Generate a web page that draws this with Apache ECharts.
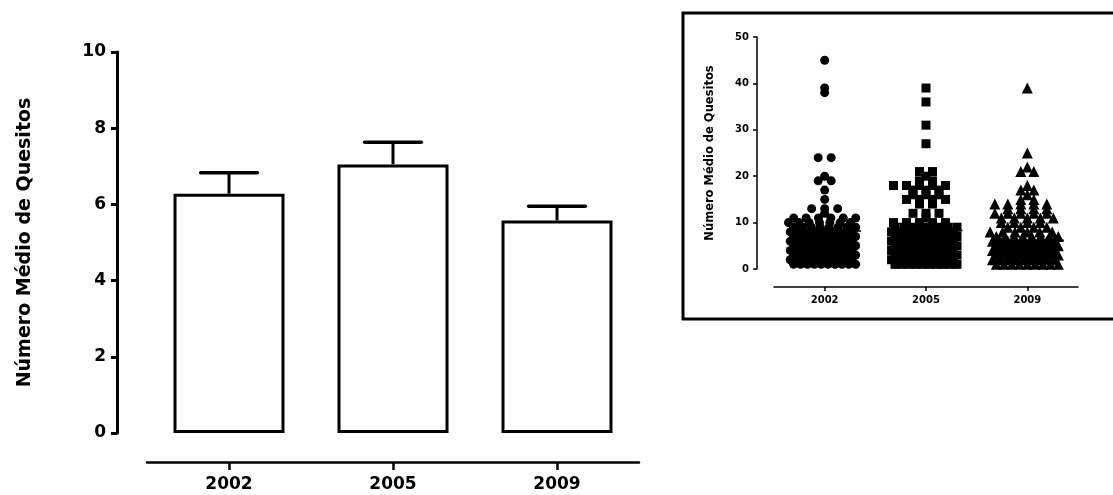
<!DOCTYPE html>
<html><head><meta charset="utf-8">
<script src="https://cdn.jsdelivr.net/npm/echarts@6/dist/echarts.min.js"></script>
<style>html,body{margin:0;padding:0;background:#fff}#c{width:1113px;height:495px}</style>
</head><body><div id="c"></div>
<script>
// ---- Main bar chart data ----
const years = ['2002', '2005', '2009'];
const meanValues = [6.28, 7.05, 5.58];
const upperErrorValues = [6.83, 7.63, 5.95];
const axisTitle = 'Número Médio de Quesitos';

// ---- Inset scatter data (each value = one questionnaire count) ----
const insetMeans = [8.2, 8.3, 6.2];
const dots2002 = [45,39,38,24,24,20,19,19,17,15,13,13,13,12,
  11,11,11,11,11,11,10,10,10,10,10,10,10,9,9,9,9,9,9,9,9,
  8,8,8,8,8,8,8,8,8,8,7,7,7,7,7,7,7,7,7,7,6,6,6,6,6,6,6,6,6,6,
  5,5,5,5,5,5,5,5,5,5,4,4,4,4,4,4,4,4,4,4,3,3,3,3,3,3,3,3,3,3,
  2,2,2,2,2,2,2,2,2,2,1,1,1,1,1,1,1,1,1,1];
const dots2005 = [39,36,31,27,21,21,20,19,19,18,18,18,18,18,17,17,17,16,16,16,15,15,15,15,14,14,
  12,12,12,11,10,10,10,10,10,9,9,9,9,9,9,9,9,8,8,8,8,8,8,8,8,8,8,
  7,7,7,7,7,7,7,7,7,7,6,6,6,6,6,6,6,6,6,6,5,5,5,5,5,5,5,5,5,5,
  4,4,4,4,4,4,4,4,4,4,3,3,3,3,3,3,3,3,3,3,2,2,2,2,2,2,2,2,2,2,1,1,1,1,1,1,1,1,1,1];
const dots2009 = [39,25,22,21,21,18,17,17,16,15,15,14,14,14,14,14,13,13,13,13,12,12,12,12,12,
  11,11,11,11,11,10,10,10,10,9,9,9,9,8,8,8,8,8,8,7,7,7,7,7,7,7,7,6,6,6,6,6,6,6,6,6,
  5,5,5,5,5,5,5,5,5,4,4,4,4,4,4,4,4,4,3,3,3,3,3,3,3,3,3,2,2,2,2,2,2,2,2,2,1,1,1,1,1,1,1,1,1];

const FONT = 'DejaVu Sans';

function swarm(values, cat) {
  const counts = {};
  values.forEach(v => counts[v] = (counts[v] || 0) + 1);
  const seen = {};
  return values.map(v => {
    const n = counts[v];
    seen[v] = seen[v] === undefined ? 0 : seen[v] + 1;
    const halfWidth = n > 6 ? 31 : Math.min(31, (n - 1) * 6.5);
    const step = n > 1 ? (2 * halfWidth) / (n - 1) : 0;
    const stagger = (v % 2 === 0 && n > 3) ? step * 0.5 : 0;
    let dx = (seen[v] - (n - 1) / 2) * step + stagger;
    if (dx > halfWidth + 1) dx -= step * n;
    return { value: [cat, v], symbolOffset: [dx, 0] };
  });
}

const chart = echarts.init(document.getElementById('c'));
const axisTextMain = { color: '#000', fontFamily: FONT, fontWeight: 'bold', fontSize: 17 };
const axisTextInset = { color: '#000', fontFamily: FONT, fontWeight: 'bold', fontSize: 10 };

chart.setOption({
  animation: false,
  backgroundColor: '#fff',
  graphic: [{
    type: 'rect', silent: true, z: 0,
    shape: { x: 683, y: 13, width: 460, height: 306 },
    style: { fill: 'none', stroke: '#000', lineWidth: 3 }
  }],
  grid: [
    { left: 147, right: 474, top: 52, bottom: 62 },
    { left: 774, right: 35, top: 37, bottom: 226 }
  ],
  xAxis: [
    { gridIndex: 0, type: 'category', data: years, offset: 29,
      axisLine: { onZero: false, lineStyle: { color: '#000', width: 2.5 } },
      axisTick: { show: true, alignWithLabel: true, length: 8, lineStyle: { color: '#000', width: 2.5 } },
      axisLabel: Object.assign({ margin: 14 }, axisTextMain) },
    { gridIndex: 1, type: 'category', data: years, offset: 18,
      axisLine: { onZero: false, lineStyle: { color: '#000', width: 1.5 } },
      axisTick: { show: true, alignWithLabel: true, length: 4, lineStyle: { color: '#000', width: 1.5 } },
      axisLabel: Object.assign({ margin: 8 }, axisTextInset) }
  ],
  yAxis: [
    { gridIndex: 0, type: 'value', min: 0, max: 10, interval: 2, offset: 30,
      name: axisTitle, nameLocation: 'middle', nameRotate: 90, nameGap: 82,
      nameTextStyle: { color: '#000', fontFamily: FONT, fontWeight: 'bold', fontSize: 19 },
      axisLine: { show: true, onZero: false, lineStyle: { color: '#000', width: 3 } },
      axisTick: { show: true, length: 6, lineStyle: { color: '#000', width: 3 } },
      axisLabel: Object.assign({ margin: 11 }, axisTextMain),
      splitLine: { show: false } },
    { gridIndex: 1, type: 'value', min: 0, max: 50, interval: 10, offset: 17,
      name: axisTitle, nameLocation: 'middle', nameRotate: 90, nameGap: 41,
      nameTextStyle: { color: '#000', fontFamily: FONT, fontWeight: 'bold', fontSize: 11.5 },
      axisLine: { show: true, onZero: false, lineStyle: { color: '#000', width: 1.5 } },
      axisTick: { show: true, length: 4, lineStyle: { color: '#000', width: 1.5 } },
      axisLabel: Object.assign({ margin: 8 }, axisTextInset),
      splitLine: { show: false } }
  ],
  series: [
    { type: 'bar', xAxisIndex: 0, yAxisIndex: 0, data: meanValues, barWidth: 111,
      itemStyle: { color: '#fff', borderColor: '#000', borderWidth: 3 } },
    { type: 'custom', xAxisIndex: 0, yAxisIndex: 0, z: 5,
      data: years.map((y, i) => [i, meanValues[i], upperErrorValues[i]]),
      renderItem: function (params, api) {
        const x = api.value(0);
        const p0 = api.coord([x, api.value(1)]);
        const p1 = api.coord([x, api.value(2)]);
        const hw = api.size([1, 0])[0] * 0.173;
        return { type: 'group', children: [
          { type: 'line', shape: { x1: p0[0], y1: p0[1], x2: p1[0], y2: p1[1] }, style: { stroke: '#000', lineWidth: 3 } },
          { type: 'line', shape: { x1: p1[0] - hw, y1: p1[1], x2: p1[0] + hw, y2: p1[1] }, style: { stroke: '#000', lineWidth: 3.5, lineCap: 'round' } }
        ] };
      } },
    { type: 'scatter', xAxisIndex: 1, yAxisIndex: 1, symbol: 'circle', symbolSize: 9,
      itemStyle: { color: '#000', opacity: 1 }, data: swarm(dots2002, 0) },
    { type: 'scatter', xAxisIndex: 1, yAxisIndex: 1, symbol: 'rect', symbolSize: 9,
      itemStyle: { color: '#000', opacity: 1 }, data: swarm(dots2005, 1) },
    { type: 'scatter', xAxisIndex: 1, yAxisIndex: 1, symbol: 'triangle', symbolSize: 11,
      itemStyle: { color: '#000', opacity: 1 }, data: swarm(dots2009, 2) },
    { type: 'custom', xAxisIndex: 1, yAxisIndex: 1, z: 6,
      data: insetMeans.map((m, i) => [i, m]),
      renderItem: function (params, api) {
        const p = api.coord([api.value(0), api.value(1)]);
        const hw = api.size([1, 0])[0] * 0.36;
        return { type: 'line', shape: { x1: p[0] - hw, y1: p[1], x2: p[0] + hw, y2: p[1] }, style: { stroke: '#000', lineWidth: 1.5 } };
      } }
  ]
});
</script>
</body></html>
